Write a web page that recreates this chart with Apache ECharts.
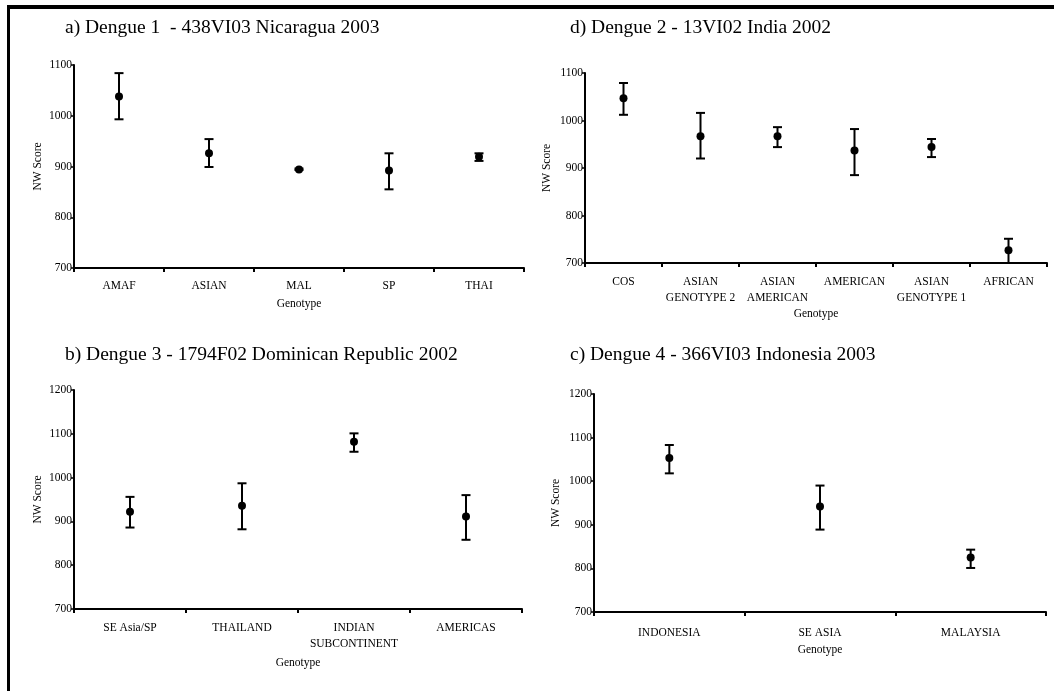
<!DOCTYPE html>
<html>
<head>
<meta charset="utf-8">
<script src="https://cdn.jsdelivr.net/npm/echarts@6/dist/echarts.min.js"></script>
<style>
html,body{margin:0;padding:0;background:#fff;}
#chart{width:1054px;height:691px;}
</style>
</head>
<body>
<div id="chart"></div>
<script>
// Panel a) Dengue 1
const titleA = 'a) Dengue 1  - 438VI03 Nicaragua 2003';
const catsA = ['AMAF', 'ASIAN', 'MAL', 'SP', 'THAI'];
const meanA = [1038, 926, 894, 892, 919];
const lowA  = [993, 899, 893, 855, 911];
const highA = [1084, 954, 896, 926, 926];
const ticksA = [700, 1100, 100];

// Panel d) Dengue 2
const titleD = 'd) Dengue 2 - 13VI02 India 2002';
const catsD = ['COS', 'ASIAN\nGENOTYPE 2', 'ASIAN\nAMERICAN', 'AMERICAN', 'ASIAN\nGENOTYPE 1', 'AFRICAN'];
const meanD = [1047, 967, 967, 937, 944, 727];
const lowD  = [1012, 920, 944, 885, 923, 700];
const highD = [1079, 1016, 986, 982, 961, 751];
const ticksD = [700, 1100, 100];

// Panel b) Dengue 3
const titleB = 'b) Dengue 3 - 1794F02 Dominican Republic 2002';
const catsB = ['SE Asia/SP', 'THAILAND', 'INDIAN\nSUBCONTINENT', 'AMERICAS'];
const meanB = [922, 936, 1082, 911];
const lowB  = [886, 882, 1059, 858];
const highB = [956, 987, 1101, 960];
const ticksB = [700, 1200, 100];

// Panel c) Dengue 4
const titleC = 'c) Dengue 4 - 366VI03 Indonesia 2003';
const catsC = ['INDONESIA', 'SE ASIA', 'MALAYSIA'];
const meanC = [1053, 942, 825];
const lowC  = [1018, 889, 801];
const highC = [1083, 990, 843];
const ticksC = [700, 1200, 100];

const yName = 'NW Score';
const xName = 'Genotype';

const FONT = 'Liberation Serif';

const panels = [
  {title: titleA, cats: catsA, mean: meanA, low: lowA, high: highA, ticks: ticksA,
   grid: {left: 74, top: 65, width: 450, height: 203}, titlePos: [65, 18], yGap: 30, xGap: 30, lblMargin: 10},
  {title: titleD, cats: catsD, mean: meanD, low: lowD, high: highD, ticks: ticksD,
   grid: {left: 585, top: 73, width: 462, height: 190}, titlePos: [570, 18], yGap: 32, xGap: 45, lblMargin: 11},
  {title: titleB, cats: catsB, mean: meanB, low: lowB, high: highB, ticks: ticksB,
   grid: {left: 74, top: 390, width: 448, height: 219}, titlePos: [65, 345], yGap: 30, xGap: 48, lblMargin: 11},
  {title: titleC, cats: catsC, mean: meanC, low: lowC, high: highC, ticks: ticksC,
   grid: {left: 594, top: 394, width: 452, height: 218}, titlePos: [570, 345], yGap: 32, xGap: 32, lblMargin: 13}
];

const option = {
  backgroundColor: '#fff',
  animation: false,
  title: [], grid: [], xAxis: [], yAxis: [], series: [],
  graphic: [
    {type: 'line', shape: {x1: 7, y1: 7, x2: 1054, y2: 7}, style: {stroke: '#000', lineWidth: 4}},
    {type: 'line', shape: {x1: 8.5, y1: 5, x2: 8.5, y2: 691}, style: {stroke: '#000', lineWidth: 3}}
  ]
};

panels.forEach((p, i) => {
  option.title.push({
    text: p.title, left: p.titlePos[0], top: p.titlePos[1], padding: 0,
    textStyle: {fontFamily: FONT, fontSize: 19.5, fontWeight: 'normal', color: '#000'}
  });
  option.grid.push(Object.assign({containLabel: false}, p.grid));
  option.xAxis.push({
    type: 'category', gridIndex: i, data: p.cats, boundaryGap: true,
    name: xName, nameLocation: 'middle', nameGap: p.xGap,
    nameTextStyle: {fontFamily: FONT, fontSize: 11.5, color: '#000'},
    axisLine: {lineStyle: {color: '#000', width: 2}},
    axisTick: {show: true, interval: 0, length: 4, lineStyle: {color: '#000', width: 2}},
    axisLabel: {interval: 0, margin: p.lblMargin, fontFamily: FONT, fontSize: 11.5, color: '#000', lineHeight: 16},
    splitLine: {show: false}
  });
  option.yAxis.push({
    type: 'value', gridIndex: i, min: p.ticks[0], max: p.ticks[1], interval: p.ticks[2],
    name: yName, nameLocation: 'middle', nameGap: p.yGap, nameRotate: 90,
    nameTextStyle: {fontFamily: FONT, fontSize: 11.5, color: '#000'},
    axisLine: {show: true, lineStyle: {color: '#000', width: 2}},
    axisTick: {show: true, length: 3, lineStyle: {color: '#000', width: 1.5}},
    axisLabel: {margin: 2, fontFamily: FONT, fontSize: 11.5, color: '#000', formatter: v => String(v)},
    splitLine: {show: false}
  });
  option.series.push({
    type: 'custom', xAxisIndex: i, yAxisIndex: i, clip: false,
    data: p.cats.map((c, k) => [k, p.low[k], p.high[k]]),
    renderItem: function (params, api) {
      const lo = api.coord([api.value(0), api.value(1)]);
      const hi = api.coord([api.value(0), api.value(2)]);
      const w = 4.5;
      const st = {stroke: '#000', lineWidth: 2, fill: null};
      return {type: 'group', children: [
        {type: 'line', shape: {x1: lo[0], y1: lo[1], x2: hi[0], y2: hi[1]}, style: st},
        {type: 'line', shape: {x1: hi[0] - w, y1: hi[1], x2: hi[0] + w, y2: hi[1]}, style: st},
        {type: 'line', shape: {x1: lo[0] - w, y1: lo[1], x2: lo[0] + w, y2: lo[1]}, style: st}
      ]};
    }
  });
  option.series.push({
    type: 'scatter', xAxisIndex: i, yAxisIndex: i, data: p.mean,
    symbol: 'circle', symbolSize: 8, itemStyle: {color: '#000', opacity: 1}
  });
});

const chart = echarts.init(document.getElementById('chart'), null, {renderer: 'canvas'});
chart.setOption(option);
</script>
</body>
</html>
